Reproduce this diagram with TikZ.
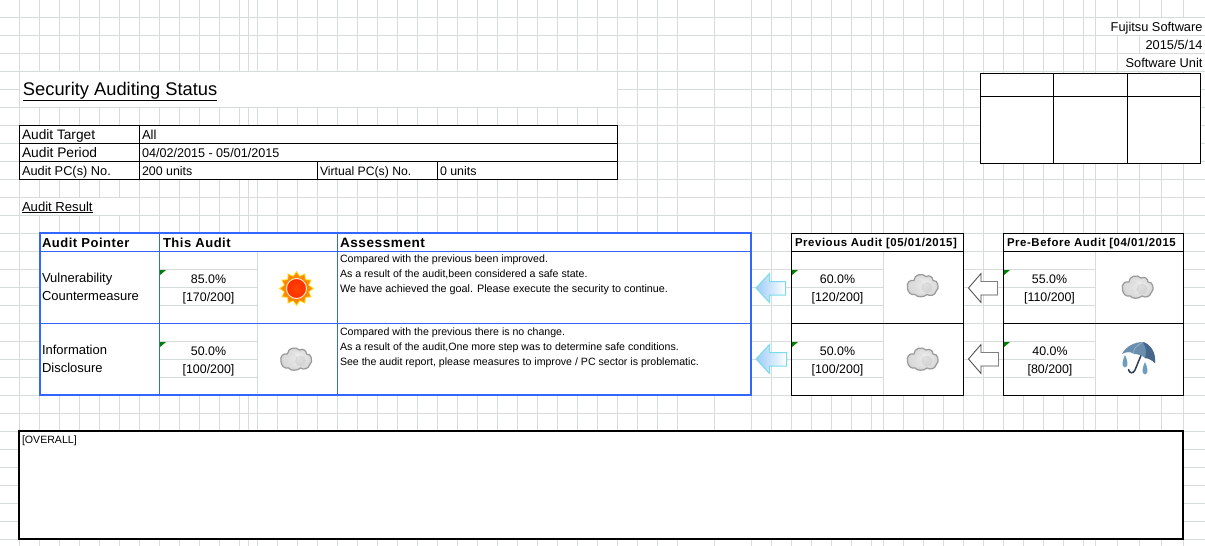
\documentclass[tikz,border=0pt]{standalone}
\usepackage{fontspec}
\setmainfont{Liberation Sans}
\newfontfamily\hdrfont[LetterSpace=4]{Liberation Sans}
\newfontfamily\smallhdrfont[LetterSpace=5]{Liberation Sans}
\definecolor{gridc}{HTML}{D6DCDA}
\definecolor{auditblue}{HTML}{3366FF}
\definecolor{cellgreen}{HTML}{008000}
\definecolor{canopy}{HTML}{6A8FAE}
\definecolor{canopydark}{HTML}{46678A}
\definecolor{raindrop}{HTML}{6C9EBE}
\definecolor{handlec}{HTML}{2E3E52}
\definecolor{arrowblue}{HTML}{9CCBF8}
\definecolor{arrowedge}{HTML}{78DDE8}
\newcommand{\fs}[1]{\fontsize{#1}{#1}\selectfont}
\tikzset{
  gridline/.style={draw=gridc,line width=1pt},
  blk/.style={draw=black,line width=1pt},
  blu/.style={draw=auditblue,line width=1pt},
  txt/.style={inner sep=0pt,outer sep=0pt,anchor=base west,text=black},
  body/.style={txt,font=\fs{13}},
  small/.style={txt,font=\fs{10.6}},
  num/.style={inner sep=0pt,outer sep=0pt,anchor=base,font=\fs{12.4}},
  righttxt/.style={inner sep=0pt,outer sep=0pt,anchor=base east,font=\fs{12.8}},
  hdr/.style={txt,font=\fs{13}\hdrfont\bfseries},
  shdr/.style={txt,font=\fs{11.4}\smallhdrfont\bfseries},
  bluearrow/.style={left color=arrowblue,right color=white,draw=arrowedge,line width=1pt},
  cornermark/.style={fill=cellgreen,draw=none},
  pics/cloud/.style={code={
    \shade[inner color=black!3,outer color=black!18,draw=black!40,line width=1.2pt]
      (-15.5,3) .. controls (-17,-3) and (-13,-6) .. (-9,-5)
      .. controls (-9,-11) and (-1,-13) .. (3,-9)
      .. controls (7,-11) and (10,-8) .. (10,-5)
      .. controls (15,-6) and (17,3) .. (13,6)
      .. controls (12,10) and (7,11) .. (4,9)
      .. controls (1,12) and (-6,12) .. (-8,9)
      .. controls (-12,10) and (-15,7) .. cycle;
    \fill[black!16,opacity=.4] (-5,0) circle[radius=6];
    \fill[black!25,opacity=.4] (4,2) circle[radius=5.5];
  }},
}
\begin{document}
\begin{tikzpicture}[x=1pt,y=-1pt]
\useasboundingbox (0,0) rectangle (1205,546);
\fill[white] (0,0) rectangle (1205,546);
% sheet grid
\foreach \x in {19,39,59,79,99,119,139,159,179,199,219,239,248,257,277,297,317,337,357,377,397,417,437,457,477,497,517,537,557,577,597,617,637,657,677,714,751,771,791,811,831,851,871,883,903,923,943,963,983,1003,1023,1043,1063,1083,1095,1117,1139,1161,1183}
  \draw[gridline] (\x.5,0) -- (\x.5,546);
\foreach \y in {17,35,...,539}
  \draw[gridline] (0,\y.5) -- (1205,\y.5);
% white cells that hide the grid
\fill[white] (20,72) rectangle (617,107);
\fill[white] (20,198) rectangle (139,215);
\fill[white] (1107,18) rectangle (1205,35);
\fill[white] (1140,36) rectangle (1205,53);
\fill[white] (1118,54) rectangle (1205,71);
% info table
\fill[white] (19.5,125.5) rectangle (617.5,179.5);
\draw[blk] (19.5,125.5) rectangle (617.5,179.5);
\draw[blk] (19.5,143.5) -- (617.5,143.5) (19.5,161.5) -- (617.5,161.5);
\draw[blk] (139.5,125.5) -- (139.5,179.5) (317.5,161.5) -- (317.5,179.5) (437.5,161.5) -- (437.5,179.5);
% stamp table
\fill[white] (980.5,73.5) rectangle (1200.5,163.5);
\draw[blk] (980.5,73.5) rectangle (1200.5,163.5);
\draw[blk] (980.5,96.5) -- (1200.5,96.5) (1053.5,73.5) -- (1053.5,163.5) (1127.5,73.5) -- (1127.5,163.5);
% main table
\fill[white] (40,233) rectangle (751,395);
\foreach \y in {269,287,305,341,359,377} \draw[gridline] (159.5,\y.5) -- (257.5,\y.5);
\draw[gridline] (257.5,251.5) -- (257.5,395);
\draw[blu] (40,251.5) -- (751,251.5) (40,323.5) -- (751,323.5);
\draw[blu] (159.5,233) -- (159.5,395) (337.5,233) -- (337.5,395);
\draw[auditblue,line width=2pt] (40,233) rectangle (751,395);
% previous table
\fill[white] (791.5,233.5) rectangle (963.5,395.5);
\foreach \y in {269,287,305,341,359,377} \draw[gridline] (791.5,\y.5) -- (883.5,\y.5);
\draw[gridline] (883.5,251.5) -- (883.5,395.5);
\draw[blk] (791.5,233.5) rectangle (963.5,395.5);
\draw[blk] (791.5,251.5) -- (963.5,251.5) (791.5,323.5) -- (963.5,323.5);
% pre-before table
\fill[white] (1003.5,233.5) rectangle (1183.5,395.5);
\foreach \y in {269,287,305,341,359,377} \draw[gridline] (1003.5,\y.5) -- (1095.5,\y.5);
\draw[gridline] (1095.5,251.5) -- (1095.5,395.5);
\draw[blk] (1003.5,233.5) rectangle (1183.5,395.5);
\draw[blk] (1003.5,251.5) -- (1183.5,251.5) (1003.5,323.5) -- (1183.5,323.5);
% overall box
\fill[white] (19,431) rectangle (1183,539);
\draw[black,line width=2pt] (19,431) rectangle (1183,539);
% green corner marks
\foreach \x in {160,792,1004} \foreach \y in {270,342}
  \fill[cornermark] (\x,\y) -- ++(6,0) -- ++(-6,5) -- cycle;
% blue arrows
\draw[bluearrow] (756,288) -- (769.5,273.5) -- (769.5,281.5) -- (785.5,281.5) -- (785.5,295) -- (769.5,295) -- (769.5,302.5) -- cycle;
\draw[bluearrow] (756,359) -- (769.5,344.5) -- (769.5,352.5) -- (786.5,352.5) -- (786.5,366) -- (769.5,366) -- (769.5,373.5) -- cycle;
% white arrows
\draw[fill=white,draw=black!72,line width=.8pt] (968.5,288) -- (981,273.5) -- (981,281.5) -- (997.5,281.5) -- (997.5,295) -- (981,295) -- (981,302.5) -- cycle;
\draw[black!50,line width=1.4pt] (981,281.5) -- (997.5,281.5) -- (997.5,295);
\draw[fill=white,draw=black!72,line width=.8pt] (968.5,359) -- (981,344.5) -- (981,352.5) -- (998.5,352.5) -- (998.5,366) -- (981,366) -- (981,373.5) -- cycle;
\draw[black!50,line width=1.4pt] (981,352.5) -- (998.5,352.5) -- (998.5,366);
% sun
\begin{scope}[shift={(296.5,288.5)}]
  \fill[yellow!70!orange] (0:17.5)
    \foreach \k in {1,...,23}{ -- ({\k*15}:{mod(\k,2)==0 ? 17.5 : 13}) } -- cycle;
  \fill[orange!95!yellow] (0:15.5)
    \foreach \k in {1,...,23}{ -- ({\k*15}:{mod(\k,2)==0 ? 15.5 : 12}) } -- cycle;
  \shade[inner color=orange!55!red,outer color=red!65!orange,draw=orange!20!white,line width=1pt] (0,0) circle[radius=10];
\end{scope}
% clouds
\pic at (296.5,359) {cloud};
\pic at (923,285.5) {cloud};
\pic at (923,359) {cloud};
\pic at (1138,287) {cloud};
% umbrella
\begin{scope}
  \draw[handlec,line width=1.5pt,line cap=round] (1142,353) -- (1135,370) .. controls (1133.5,374) and (1129,373.5) .. (1128.5,369.5);
  \fill[canopy] (1122,354) .. controls (1126,346) and (1135,342) .. (1143,342) .. controls (1150,344) and (1156,352) .. (1155,363)
    .. controls (1152,360) and (1148,358) .. (1145,358) .. controls (1142,355) and (1137,354) .. (1134,354) .. controls (1130,351) and (1126,352) .. cycle;
  \fill[canopydark] (1143,342) .. controls (1150,344) and (1156,352) .. (1155,363) .. controls (1152,360) and (1148,358) .. (1145,358) .. controls (1147,353) and (1146,347) .. cycle;
  \draw[white,opacity=.4,line width=.6pt] (1143,342) .. controls (1136,346) and (1132,350) .. (1134,354);
  \fill[raindrop] (1125,355) .. controls (1123,359) and (1120.5,367) .. (1125,367.5) .. controls (1129.5,367) and (1127,359) .. cycle;
  \fill[raindrop] (1145,362) .. controls (1143,366) and (1140.5,374) .. (1145,374.5) .. controls (1149.5,374) and (1147,366) .. cycle;
\end{scope}
% texts
\node[txt,font=\fs{18.3}] (title) at (23,95) {\underline{Security Auditing Status}};
\node[righttxt] (org1) at (1202.5,31) {Fujitsu Software};
\node[righttxt] (org2) at (1202.5,49) {2015/5/14};
\node[righttxt] (org3) at (1202.5,67) {Software Unit};
\node[txt,font=\fs{13.7}] (t1) at (22,139) {Audit Target};
\node[txt,font=\fs{13.8}] (t2) at (22,157) {Audit Period};
\node[txt,font=\fs{12.8}] (t3) at (22,175) {Audit PC(s) No.};
\node[body] (v1) at (142,139) {All};
\node[txt,font=\fs{12.6}] (v2) at (142,157) {04/02/2015 - 05/01/2015};
\node[txt,font=\fs{12.4}] (v3) at (142,175) {200 units};
\node[txt,font=\fs{12.2}] (t4) at (320,175) {Virtual PC(s) No.};
\node[txt,font=\fs{12.4}] (v4) at (440,175) {0 units};
\node[txt,font=\fs{13.1}] (res) at (22,211) {\underline{Audit Result}};
\node[hdr] (h1) at (42,247) {Audit Pointer};
\node[hdr] (h2) at (163,247) {This Audit};
\node[hdr,font=\fs{13.6}\hdrfont\bfseries] (h3) at (340,247) {Assessment};
\node[shdr] (h4) at (795,246) {Previous Audit [05/01/2015]};
\node[shdr] (h5) at (1007,246) {Pre-Before Audit [04/01/2015};
\node[body] (p1) at (42,282) {Vulnerability};
\node[body] (p2) at (42,300) {Countermeasure};
\node[body] (p3) at (42,354) {Information};
\node[body] (p4) at (42,372) {Disclosure};
\node[num] (a1) at (208.5,283) {85.0\%};
\node[num] (a2) at (208.5,301) {[170/200]};
\node[num] (a3) at (208.5,355) {50.0\%};
\node[num] (a4) at (208.5,373) {[100/200]};
\node[num] (b1) at (837.5,283) {60.0\%};
\node[num] (b2) at (837.5,301) {[120/200]};
\node[num] (b3) at (837.5,355) {50.0\%};
\node[num] (b4) at (837.5,373) {[100/200]};
\node[num] (c1) at (1049.5,283) {55.0\%};
\node[num] (c2) at (1049.5,301) {[110/200]};
\node[num] (c3) at (1050,355) {40.0\%};
\node[num] (c4) at (1050,373) {[80/200]};
\node[small] (d1) at (340,262.5) {Compared with the previous been improved.};
\node[small] (d2) at (340,277.5) {As a result of the audit,been considered a safe state.};
\node[txt,font=\fs{10.8}] (d3) at (340,292.5) {We have achieved the goal. Please execute the security to continue.};
\node[small] (d4) at (340,335) {Compared with the previous there is no change.};
\node[small] (d5) at (340,350) {As a result of the audit,One more step was to determine safe conditions.};
\node[small] (d6) at (340,365.5) {See the audit report, please measures to improve / PC sector is problematic.};
\node[small] (ov) at (22,443) {[OVERALL]};
\end{tikzpicture}
\end{document}
